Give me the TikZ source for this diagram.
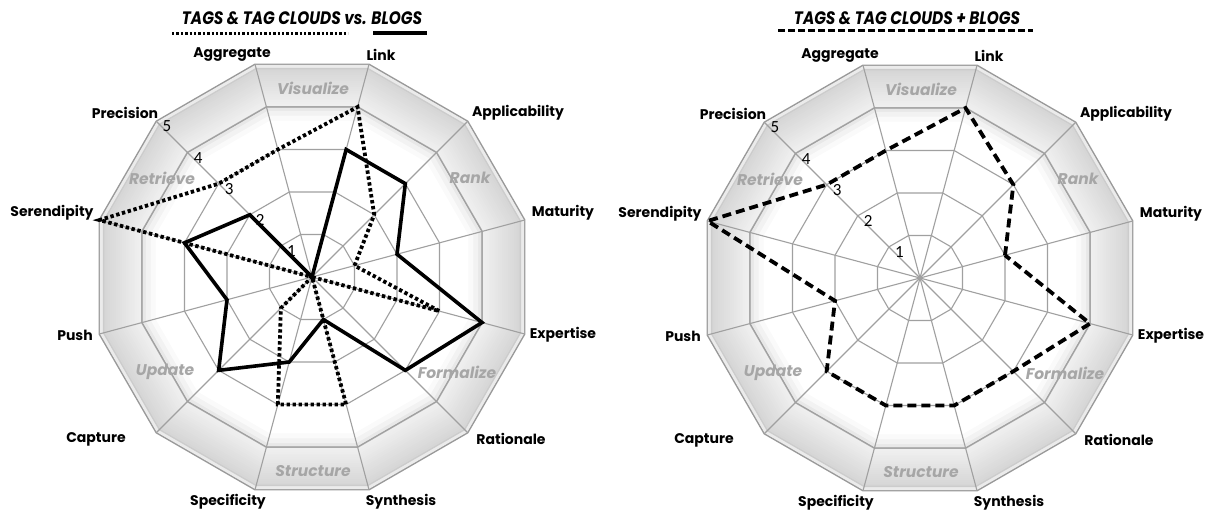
\documentclass[tikz,border=0pt]{standalone}
\usepackage{fontspec}
\setmainfont{Poppins}
\newfontfamily\numfont{Carlito}
\newfontfamily\titlefont[FakeStretch=0.85]{Poppins}
\usetikzlibrary{calc}
\definecolor{spokec}{HTML}{A0A0A0}
\definecolor{graylab}{HTML}{A6A6A6}
\tikzset{
  spoke/.style={draw=spokec, line width=1.1pt},
  ringline/.style={draw=spokec, line width=1.1pt},
  axlab/.style={font=\fontsize{14}{16}\selectfont\bfseries, inner sep=0pt},
  grlab/.style={font=\fontsize{15.5}{17}\selectfont\bfseries\itshape, text=graylab, inner sep=0pt},
  numlab/.style={font=\numfont\fontsize{17}{19}\selectfont, inner sep=0pt, anchor=west},
  blogline/.style={draw=black, line width=3.6pt, line join=miter},
  tagline/.style={draw=black, line width=3.8pt, dash pattern=on 3.4pt off 2.6pt, line join=miter},
  bothline/.style={draw=black, line width=3.8pt, dash pattern=on 9pt off 5pt, line join=miter},
  titlelab/.style={font=\titlefont\fontsize{18}{20}\selectfont\bfseries\itshape, inner sep=0pt},
}
\newcommand\dodec[1]{(15:#1) -- (45:#1) -- (75:#1) -- (105:#1) -- (135:#1) -- (165:#1) -- (195:#1) -- (225:#1) -- (255:#1) -- (285:#1) -- (315:#1) -- (345:#1) -- cycle}
\newcommand\chartbase[1]{%
  \fill[black!40] \dodec{221};
  \fill[black!8] \dodec{219.5};
  \fill[black!20] \dodec{216.5};
  \foreach \i in {0,...,18} {%
    \pgfmathsetmacro\rr{215-2*\i}%
    \pgfmathsetmacro\cc{16-0.55*\i}%
    \fill[black!\cc] \dodec{\rr};
  }
  \fill[black!28] \dodec{177};
  \fill[black!9] \dodec{175.5};
  \fill[black!5] \dodec{172};
  \fill[black!2] \dodec{167};
  \fill[white] \dodec{162};
  \foreach \k in {1,2,3,4} \draw[ringline] \dodec{44*\k};
  \foreach \a in {15,45,...,345} \draw[spoke] (0,0) -- (\a:220);
  \node[axlab] (#1agg) at (-80,222) {Aggregate};
  \node[axlab] (#1lnk) at (69,222) {Link};
  \node[axlab] (#1app) at (206,164) {Applicability};
  \node[axlab] (#1pre) at (-187,164) {Precision};
  \node[axlab] (#1mat) at (251,64) {Maturity};
  \node[axlab] (#1ser) at (-260,64) {Serendipity};
  \node[axlab] (#1exp) at (251,-58) {Expertise};
  \node[axlab] (#1pus) at (-237,-58) {Push};
  \node[axlab] (#1rat) at (199,-162) {Rationale};
  \node[axlab] (#1cap) at (-216,-162) {Capture};
  \node[axlab] (#1syn) at (89,-225) {Synthesis};
  \node[axlab] (#1spe) at (-84,-225) {Specificity};
  \node[grlab] (#1vis) at (1,189) {Visualize};
  \node[grlab] (#1rnk) at (158,99) {Rank};
  \node[grlab] (#1ret) at (-150,99) {Retrieve};
  \node[grlab] (#1upd) at (-147,-95) {Update};
  \node[grlab] (#1frm) at (145,-95) {Formalize};
  \node[grlab] (#1str) at (1,-194) {Structure};
  \foreach \k in {1,...,5} \node[numlab] (#1n\k) at ($(135:44*\k)+(6,-5)$) {\k};
}
\begin{document}
\begin{tikzpicture}[x=1pt,y=-1pt]
\useasboundingbox (0,0) rectangle (1212,515);
% left chart
\begin{scope}[shift={(312,277)},y=1pt]
  \chartbase{L}
  \draw[tagline] (15:44) -- (45:88) -- (75:176) -- (105:132) -- (135:132) -- (165:220) -- (195:0) -- (225:44) -- (255:132) -- (285:132) -- (315:0) -- (345:132) -- cycle;
  \draw[blogline] (15:88) -- (45:132) -- (75:132) -- (105:0) -- (135:88) -- (165:132) -- (195:88) -- (225:132) -- (255:88) -- (285:44) -- (315:132) -- (345:176) -- cycle;
\end{scope}
% right chart
\begin{scope}[shift={(920,278)},y=1pt]
  \chartbase{R}
  \draw[bothline] (15:88) -- (45:132) -- (75:176) -- (105:132) -- (135:132) -- (165:220) -- (195:88) -- (225:132) -- (255:132) -- (285:132) -- (315:132) -- (345:176) -- cycle;
\end{scope}
% titles
\node[titlelab] (t1) at (302,18) {TAGS \& TAG CLOUDS vs. BLOGS};
\coordinate (d1a) at (172,33); \coordinate (d1b) at (348,33);
\coordinate (s1a) at (373,33); \coordinate (s1b) at (427,33);
\draw[line width=3pt, dash pattern=on 2.4pt off 2pt] (d1a) -- (d1b);
\draw[line width=3.5pt] (s1a) -- (s1b);
\node[titlelab] (t2) at (907,18) {TAGS \& TAG CLOUDS + BLOGS};
\coordinate (d2a) at (778,30); \coordinate (d2b) at (1033,30);
\draw[line width=3pt, dash pattern=on 7pt off 3pt] (d2a) -- (d2b);
\end{tikzpicture}
\end{document}
